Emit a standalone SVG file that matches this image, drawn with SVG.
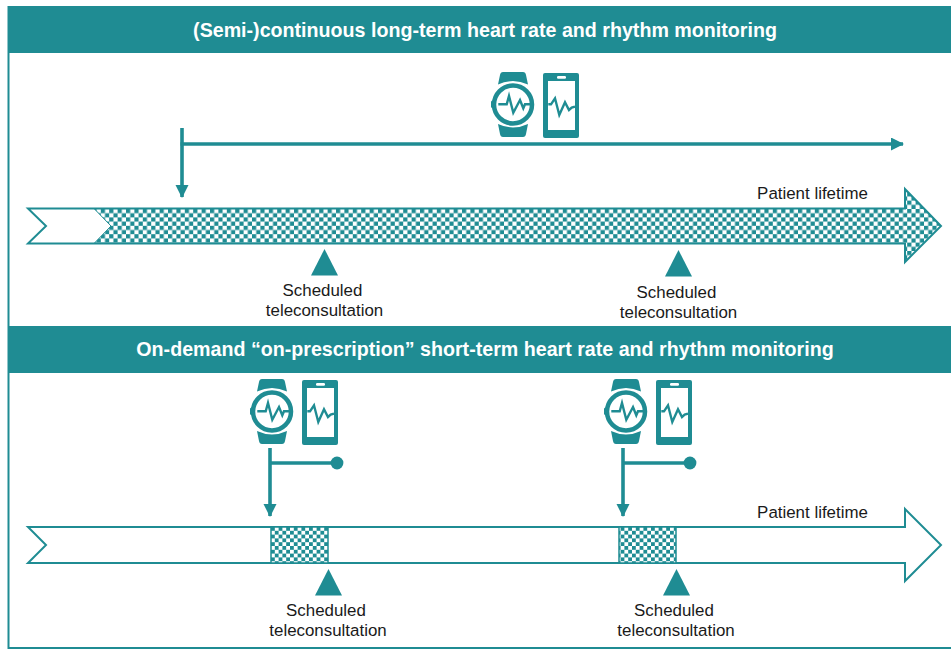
<svg xmlns="http://www.w3.org/2000/svg" xmlns:xlink="http://www.w3.org/1999/xlink" width="951" height="650" viewBox="0 0 951 650">
<style>
.hd{fill:#1f8c93}
.ln{stroke:#1f8c93;fill:none}
.ttl{font:bold 19.65px "Liberation Sans",Arial,sans-serif;fill:#fff;text-anchor:middle}
.lb{font:16.9px "Liberation Sans",Arial,sans-serif;fill:#1a1a1a;text-anchor:middle}
.t{fill:#1f8c93}
</style>
<defs>
<pattern id="chk" width="8.4" height="8.4" patternUnits="userSpaceOnUse" x="0" y="209">
<rect width="8.4" height="8.4" fill="#fff"/>
<rect width="4.2" height="4.2" fill="#1f8c93"/>
<rect x="4.2" y="4.2" width="4.2" height="4.2" fill="#1f8c93"/>
</pattern>
<pattern id="chk2" width="7.6" height="7.6" patternUnits="userSpaceOnUse" x="271" y="527">
<rect width="7.6" height="7.6" fill="#fff"/>
<rect width="3.8" height="3.8" fill="#1f8c93"/>
<rect x="3.8" y="3.8" width="3.8" height="3.8" fill="#1f8c93"/>
</pattern>
<marker id="ah" markerUnits="userSpaceOnUse" markerWidth="14" markerHeight="14" refX="12" refY="6.5" orient="auto">
<path d="M0 0L13 6.5L0 13Z" fill="#1f8c93"/>
</marker>
<g id="devices">
<path class="t" d="M12 0H32Q34.500 0 35 3L37 12.500Q22 5.500 7 12.500L9 3Q9.500 0 12 0Z"/>
<path class="t" d="M12 65H32Q34.500 65 35 62L37 52Q22 59 7 52L9 62Q9.500 65 12 65Z"/>
<circle cx="22" cy="32.500" r="19" fill="#fff" stroke="#1f8c93" stroke-width="4.500"/>
<rect x="0" y="28.500" width="4" height="7.500" rx="1.500" class="t"/>
<path class="ln" stroke-width="2.400" d="M7.300 32.300H15.700L18 24L22.300 40.700L29 28L32.300 36.300L34 32.300H39"/>
<rect x="52" y="1" width="36" height="65" rx="2" class="t"/>
<rect x="57" y="9" width="27" height="49" fill="#fff"/>
<rect x="66" y="4" width="9" height="2.800" rx="1.200" fill="#fff"/>
<path class="ln" stroke-width="2.400" d="M57.300 32.300H60L64 26.300L68.300 43L74 30.300L78 38L80.700 35.700L84 34.700"/>
</g>
<g id="tele">
<path class="t" d="M0 26.500L13.500 0L27 26.500Z"/>
</g>
</defs>
<rect width="951" height="650" fill="#fff"/>
<g id="frame">
<rect x="8.500" y="7" width="945" height="641" fill="none" stroke="#1f8c93" stroke-width="2"/>
</g>
<g id="header-top">
<rect class="hd" x="8" y="7" width="943" height="46"/>
<text class="ttl" x="485" y="37">(Semi-)continuous long-term heart rate and rhythm monitoring</text>
</g>
<g id="header-bottom">
<rect class="hd" x="8" y="326" width="943" height="47"/>
<text class="ttl" x="485" y="356">On-demand “on-prescription” short-term heart rate and rhythm monitoring</text>
</g>
<g id="lifetime-top">
<path d="M28 208.500H905V189L941 226L905 262V243.500H28L46 226Z" fill="url(#chk)"/>
<path d="M28 208.500H94L111 226L94 243.500H28L46 226Z" fill="#fff"/>
<path d="M94 208.500L111 226L94 243.500" fill="none" stroke="#1f8c93" stroke-width="1"/>
<path d="M28 208.500H905V189L941 226L905 262V243.500H28L46 226Z" fill="none" stroke="#1f8c93" stroke-width="2"/>
<text class="lb" x="812.500" y="199">Patient lifetime</text>
</g>
<g id="lifetime-bottom">
<path d="M28 527H905V509L941 545L905 581V563H28L46 545Z" fill="#fff" stroke="#1f8c93" stroke-width="2"/>
<text class="lb" x="812.500" y="518">Patient lifetime</text>
</g>
<g id="monitor-1"><rect x="271" y="527" width="57" height="36" fill="url(#chk2)" stroke="#1f8c93" stroke-width="1.500"/></g>
<g id="monitor-2"><rect x="619" y="527" width="57" height="36" fill="url(#chk2)" stroke="#1f8c93" stroke-width="1.500"/></g>
<g id="devices-top"><use xlink:href="#devices" href="#devices" x="491" y="72"/></g>
<g id="devices-bl"><use xlink:href="#devices" href="#devices" x="250" y="379"/></g>
<g id="devices-br"><use xlink:href="#devices" href="#devices" x="604" y="379"/></g>
<g id="connectors">
<path class="ln" stroke-width="3.600" d="M180.500 144H903" marker-end="url(#ah)"/>
<path class="ln" stroke-width="3.600" d="M182 128V197" marker-end="url(#ah)"/>
<path class="ln" stroke-width="3.600" d="M270 448V516" marker-end="url(#ah)"/>
<path class="ln" stroke-width="3.600" d="M270 463H337"/>
<circle class="t" cx="337" cy="463" r="6.400"/>
<path class="ln" stroke-width="3.600" d="M623 448V516" marker-end="url(#ah)"/>
<path class="ln" stroke-width="3.600" d="M623 463H690"/>
<circle class="t" cx="690" cy="463" r="6.400"/>
</g>
<g id="tele-1"><use xlink:href="#tele" href="#tele" x="311" y="249"/><text class="lb" x="322.500" y="296">Scheduled</text><text class="lb" x="324.500" y="316">teleconsultation</text></g>
<g id="tele-2"><use xlink:href="#tele" href="#tele" x="665" y="250"/><text class="lb" x="676.500" y="297.500">Scheduled</text><text class="lb" x="678.500" y="317.500">teleconsultation</text></g>
<g id="tele-3"><use xlink:href="#tele" href="#tele" x="315" y="569"/><text class="lb" x="326" y="616">Scheduled</text><text class="lb" x="328" y="636">teleconsultation</text></g>
<g id="tele-4"><use xlink:href="#tele" href="#tele" x="663" y="569"/><text class="lb" x="674" y="616">Scheduled</text><text class="lb" x="676" y="636">teleconsultation</text></g>
</svg>
